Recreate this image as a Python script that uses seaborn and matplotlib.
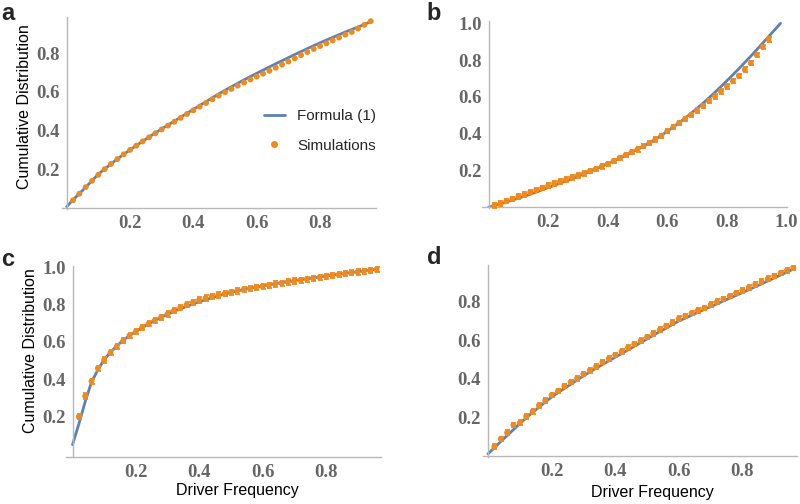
import matplotlib
matplotlib.use("Agg")
import matplotlib.pyplot as plt
from matplotlib.lines import Line2D
from matplotlib.ticker import FixedLocator, MultipleLocator
import seaborn as sns

# x grids
x_line = [0.00, 0.02, 0.04, 0.06, 0.08, 0.10, 0.12, 0.14, 0.16, 0.18, 0.20, 0.22, 0.24, 0.26, 0.28,
          0.30, 0.32, 0.34, 0.36, 0.38, 0.40, 0.42, 0.44, 0.46, 0.48, 0.50, 0.52, 0.54, 0.56, 0.58,
          0.60, 0.62, 0.64, 0.66, 0.68, 0.70, 0.72, 0.74, 0.76, 0.78, 0.80, 0.82, 0.84, 0.86, 0.88,
          0.90, 0.92, 0.94, 0.96]
x_line_b = x_line + [0.98]
x_sim = x_line[1:]
x_sim_b = x_line[1:48]

# panel a
formula_a = [0.005, 0.040, 0.073, 0.105, 0.140, 0.173, 0.200, 0.227, 0.252, 0.276, 0.299, 0.322, 0.344,
             0.366, 0.387, 0.408, 0.428, 0.448, 0.469, 0.489, 0.509, 0.529, 0.549, 0.569, 0.589, 0.608,
             0.626, 0.644, 0.662, 0.679, 0.696, 0.712, 0.729, 0.745, 0.761, 0.777, 0.793, 0.808, 0.824,
             0.839, 0.854, 0.868, 0.882, 0.896, 0.910, 0.923, 0.936, 0.949, 0.964]
sim_a = [0.038, 0.072, 0.106, 0.139, 0.170, 0.199, 0.226, 0.251, 0.276, 0.299, 0.321, 0.343, 0.364,
         0.385, 0.405, 0.425, 0.445, 0.465, 0.485, 0.504, 0.523, 0.542, 0.561, 0.580, 0.598, 0.615,
         0.632, 0.648, 0.664, 0.679, 0.694, 0.709, 0.725, 0.741, 0.757, 0.773, 0.790, 0.806, 0.822,
         0.837, 0.851, 0.866, 0.881, 0.896, 0.910, 0.928, 0.947, 0.966]

# panel b
formula_b = [0.000, 0.009, 0.019, 0.029, 0.039, 0.049, 0.060, 0.071, 0.083, 0.095, 0.107, 0.119, 0.131,
             0.143, 0.155, 0.168, 0.181, 0.194, 0.208, 0.222, 0.236, 0.251, 0.266, 0.282, 0.298, 0.315,
             0.332, 0.350, 0.370, 0.391, 0.413, 0.436, 0.460, 0.485, 0.511, 0.538, 0.566, 0.595, 0.625,
             0.656, 0.688, 0.720, 0.753, 0.787, 0.821, 0.856, 0.892, 0.928, 0.964, 1.000]
sim_b = [0.010, 0.021, 0.033, 0.046, 0.058, 0.070, 0.082, 0.094, 0.106, 0.118, 0.129, 0.140, 0.151,
         0.162, 0.173, 0.184, 0.196, 0.208, 0.222, 0.236, 0.252, 0.268, 0.284, 0.300, 0.315, 0.332,
         0.350, 0.369, 0.389, 0.414, 0.437, 0.459, 0.481, 0.503, 0.526, 0.551, 0.577, 0.603, 0.630,
         0.657, 0.685, 0.715, 0.748, 0.784, 0.828, 0.872, 0.913]
err_b = 0.012

# panel c
formula_c = [0.050, 0.160, 0.280, 0.385, 0.450, 0.505, 0.545, 0.579, 0.609, 0.634, 0.656, 0.677, 0.696,
             0.714, 0.731, 0.748, 0.763, 0.777, 0.790, 0.803, 0.815, 0.826, 0.837, 0.847, 0.856, 0.865,
             0.873, 0.880, 0.887, 0.894, 0.900, 0.906, 0.912, 0.917, 0.923, 0.928, 0.933, 0.938, 0.943,
             0.948, 0.953, 0.958, 0.962, 0.967, 0.972, 0.976, 0.981, 0.985, 0.990]
sim_c = [0.200, 0.310, 0.390, 0.459, 0.503, 0.544, 0.576, 0.606, 0.634, 0.656, 0.678, 0.697, 0.716,
         0.732, 0.750, 0.767, 0.784, 0.799, 0.812, 0.825, 0.835, 0.845, 0.852, 0.858, 0.866, 0.873,
         0.880, 0.886, 0.892, 0.898, 0.904, 0.910, 0.915, 0.921, 0.926, 0.931, 0.936, 0.941, 0.946,
         0.951, 0.956, 0.960, 0.965, 0.970, 0.974, 0.978, 0.983, 0.988]
err_c = 0.014

# panel d
formula_d = [0.010, 0.042, 0.074, 0.105, 0.136, 0.167, 0.197, 0.225, 0.252, 0.279, 0.305, 0.328, 0.350,
             0.371, 0.393, 0.415, 0.435, 0.455, 0.474, 0.493, 0.512, 0.531, 0.550, 0.569, 0.588, 0.607,
             0.626, 0.645, 0.663, 0.682, 0.700, 0.715, 0.730, 0.745, 0.760, 0.775, 0.789, 0.804, 0.819,
             0.833, 0.848, 0.863, 0.878, 0.893, 0.908, 0.924, 0.939, 0.954, 0.970]
sim_d = [0.048, 0.088, 0.120, 0.160, 0.172, 0.205, 0.230, 0.262, 0.288, 0.316, 0.337, 0.362, 0.383,
         0.402, 0.425, 0.444, 0.465, 0.487, 0.505, 0.524, 0.542, 0.562, 0.580, 0.598, 0.617, 0.636,
         0.655, 0.675, 0.692, 0.712, 0.727, 0.741, 0.756, 0.768, 0.785, 0.800, 0.815, 0.830, 0.846,
         0.860, 0.875, 0.890, 0.905, 0.920, 0.935, 0.950, 0.963, 0.978]
err_d = 0.012

BLUE = "#5E81B5"
ORANGE = "#EF8A1F"
AXIS_GRAY = "#b8b8b8"
TICK_TXT = "#666666"

sns.set_theme(style="white")
plt.rcParams["font.family"] = ["Liberation Sans", "DejaVu Sans"]

W, H = 800, 504
fig = plt.figure(figsize=(8, 5.04), dpi=100)


def make_axes(x0, xpu, y0, ypu, xlim, ylim):
    left = x0 + xlim[0] * xpu
    right = x0 + xlim[1] * xpu
    top = y0 - ylim[1] * ypu
    bottom = y0 - ylim[0] * ypu
    ax = fig.add_axes([left / W, (H - bottom) / H, (right - left) / W, (bottom - top) / H])
    ax.set_xlim(*xlim)
    ax.set_ylim(*ylim)
    return ax


def style(ax, xticks, yticks, bottom_at_zero=True):
    ax.set_facecolor("white")
    for s in ["top", "right"]:
        ax.spines[s].set_visible(False)
    for s in ["left", "bottom"]:
        ax.spines[s].set_color(AXIS_GRAY)
        ax.spines[s].set_linewidth(1.0)
    ax.spines["left"].set_position(("data", 0))
    if bottom_at_zero:
        ax.spines["bottom"].set_position(("data", 0))
    ax.xaxis.set_major_locator(FixedLocator(xticks))
    ax.yaxis.set_major_locator(FixedLocator(yticks))
    ax.xaxis.set_minor_locator(MultipleLocator(0.05))
    ax.yaxis.set_minor_locator(MultipleLocator(0.05))
    ax.tick_params(which="major", direction="in", length=4, width=0.8, color=AXIS_GRAY,
                   labelsize=13.5, labelcolor=TICK_TXT, pad=5)
    ax.tick_params(which="minor", direction="in", length=2, width=0.6, color=AXIS_GRAY)
    ax.set_xticklabels([f"{t:.1f}" for t in xticks], family="Liberation Serif", weight="bold")
    ax.set_yticklabels([f"{t:.1f}" for t in yticks], family="Liberation Serif", weight="bold")
    ax.set_xlabel("")
    ax.set_ylabel("")
    ax.grid(False)


def draw(ax, xl, yl, xs, ys, err=None):
    sns.lineplot(x=xl, y=yl, color=BLUE, linewidth=2.0, ax=ax, zorder=2)
    if err is not None:
        ax.errorbar(xs, ys, yerr=err, fmt="none", ecolor=ORANGE, elinewidth=1.3,
                    capsize=1.8, capthick=1.3, zorder=3)
    sns.scatterplot(x=xs, y=ys, color=ORANGE, s=18, edgecolor="none", ax=ax, zorder=4)


ticks4 = [0.2, 0.4, 0.6, 0.8]
ticks5 = [0.2, 0.4, 0.6, 0.8, 1.0]

ax_a = make_axes(66.7, 316.7, 207.6, 193, (-0.016, 0.977), (-0.005, 0.99))
draw(ax_a, x_line, formula_a, x_sim, sim_a)
style(ax_a, ticks4, ticks4)

ax_b = make_axes(488.5, 298.0, 207.3, 184, (-0.022, 1.0), (-0.005, 1.01))
draw(ax_b, x_line_b, formula_b, x_sim_b, sim_b, err_b)
style(ax_b, ticks5, ticks5)

ax_c = make_axes(72.5, 316.7, 454.0, 186.75, (-0.02, 0.975), (-0.014, 1.005))
draw(ax_c, x_line, formula_c, x_sim, sim_c, err_c)
style(ax_c, ticks4, ticks5, bottom_at_zero=False)

ax_d = make_axes(488.0, 318.0, 455.8, 192.5, (-0.015, 0.972), (-0.005, 0.99))
draw(ax_d, x_line, formula_d, x_sim, sim_d, err_d)
style(ax_d, ticks4, ticks4)

# legend in panel a
handles = [Line2D([0], [0], color=BLUE, linewidth=2.0),
           Line2D([0], [0], marker="o", linestyle="none", color=ORANGE, markersize=4)]
fig.legend(handles, ["Formula (1)", "Simulations"], loc="center left",
           bbox_to_anchor=(250 / W, 1 - 131 / H), frameon=False, fontsize=11,
           handlelength=1.4, labelspacing=1.0, handletextpad=0.8)

# axis labels
lab = dict(fontsize=11.5, color="black")
fig.text(25 / W, 1 - 107 / H, "Cumulative Distribution", rotation=90, ha="center", va="center", **lab)
fig.text(31 / W, 1 - 351 / H, "Cumulative Distribution", rotation=90, ha="center", va="center", **lab)
fig.text(237 / W, 1 - 490 / H, "Driver Frequency", ha="center", va="center", **lab)
fig.text(652 / W, 1 - 493 / H, "Driver Frequency", ha="center", va="center", **lab)

# panel letters
for px, py, letter in [(8, 13, "a"), (434, 14, "b"), (8, 259, "c"), (434, 258, "d")]:
    fig.text(px / W, 1 - py / H, letter, fontsize=17, weight="bold", ha="center", va="center")

fig.savefig("out.png", dpi=100)
